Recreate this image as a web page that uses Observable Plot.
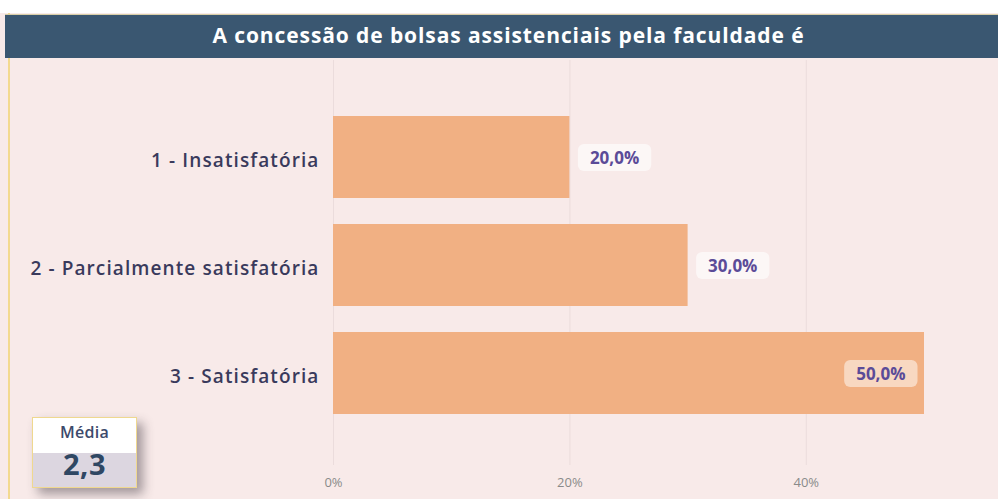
<!DOCTYPE html>
<html>
<head>
<meta charset="utf-8">
<script src="https://cdn.jsdelivr.net/npm/d3@7"></script>
<script src="https://cdn.jsdelivr.net/npm/@observablehq/plot@0.6"></script>
<style>
  html, body { margin: 0; padding: 0; background: #ffffff; }
  #wrap { position: relative; width: 998px; height: 499px; overflow: hidden; font-family: "Open Sans", sans-serif; }
  #card { position: absolute; left: 0; top: 13px; width: 998px; height: 486px; background: #f8eae9; }
  #leftline { position: absolute; left: 8px; top: 13px; width: 2px; height: 486px; background: #f3d98f; }
  #title { position: absolute; left: 5px; top: 14px; width: 993px; height: 44px; background: #3a5771;
           border-top: 1px solid #d9cfa8; box-sizing: border-box;
           color: #ffffff; font-weight: 700; font-size: 21px; line-height: 40px; text-align: center; letter-spacing: 0.9px; }
  #title span { position: relative; left: 7px; }
  #chart { position: absolute; left: 0; top: 0; }
  #media { position: absolute; left: 32px; top: 417px; width: 105px; height: 71px; border: 1px solid #efd88f;
           box-sizing: border-box; box-shadow: 6px 6px 10px rgba(60,50,60,0.45); }
  #media .top { height: 35px; background: #ffffff; color: #3d4a6b; font-size: 16px; font-weight: 600; text-align: center; line-height: 29px; letter-spacing: 0.3px; }
  #media .bot { height: 34px; background: #dcd6e0; color: #2f4763; font-size: 29px; font-weight: 700; text-align: center; line-height: 22px; letter-spacing: 0.5px; }
  g[aria-label="y-axis tick label"] text { letter-spacing: 1.1px; }
</style>
</head>
<body>
<div id="wrap">
  <div id="card"></div>
  <div id="leftline"></div>
  <div id="chart"></div>
  <div id="title"><span></span></div>
  <div id="media"><div class="top"></div><div class="bot"></div></div>
</div>
<script>
const titleText = "A concessão de bolsas assistenciais pela faculdade é";
const categories = ["1 - Insatisfatória", "2 - Parcialmente satisfatória", "3 - Satisfatória"];
const values = [20, 30, 50];
const xTicks = [0, 20, 40];
const mediaLabel = "Média";
const mediaValue = "2,3";

document.querySelector("#title span").textContent = titleText;
document.querySelector("#media .top").textContent = mediaLabel;
document.querySelector("#media .bot").textContent = mediaValue;

const data = categories.map((c, i) => ({category: c, value: values[i]}));
const fmt = v => v.toFixed(1).replace(".", ",") + "%";
const inside = d => d.value >= 45;

const svg = Plot.plot({
  width: 998,
  height: 499,
  marginTop: 60,
  marginBottom: 34,
  marginLeft: 333,
  marginRight: 74,
  style: {fontFamily: "Open Sans, sans-serif", background: "transparent", overflow: "visible"},
  x: {domain: [0, 50]},
  y: {domain: categories, paddingInner: 0.24, paddingOuter: 0.487, align: 0.52},
  marks: [
    Plot.gridX(xTicks, {stroke: "#ebdcdc", strokeOpacity: 1, strokeWidth: 1}),
    Plot.barX(data, {x: "value", y: "category", fill: "#f1b083"}),
    Plot.axisY({tickSize: 0, tickPadding: 14, dy: 3, fontSize: 19, fontWeight: 600, fill: "#3a3a5c", label: null}),
    Plot.axisX({ticks: xTicks, tickFormat: d => d + "%", tickSize: 0, tickPadding: 12, fontSize: 13, fill: "#8a8a8a", label: null}),
    Plot.text(data.filter(d => !inside(d)), {x: "value", y: "category", text: d => fmt(d.value), dx: 20, dy: 1, textAnchor: "start",
      fill: "#5b4b98", fontSize: 17, fontWeight: 700, className: "vlab-out"}),
    Plot.text(data.filter(inside), {x: "value", y: "category", text: d => fmt(d.value), dx: -19, dy: 1, textAnchor: "end",
      fill: "#5b4b98", fontSize: 17, fontWeight: 700, className: "vlab-in"})
  ]
});
document.getElementById("chart").appendChild(svg);

// rounded label backgrounds
function addBoxes(cls, fill) {
  svg.querySelectorAll("g." + cls + " text, ." + cls + " text").forEach(t => {
    const b = t.getBBox();
    const r = document.createElementNS("http://www.w3.org/2000/svg", "rect");
    r.setAttribute("x", b.x - 12);
    r.setAttribute("y", b.y - 2);
    r.setAttribute("width", b.width + 24);
    r.setAttribute("height", b.height + 4);
    r.setAttribute("rx", 6);
    r.setAttribute("fill", fill);
    if (t.getAttribute("transform")) r.setAttribute("transform", t.getAttribute("transform"));
    t.parentNode.insertBefore(r, t);
  });
}
addBoxes("vlab-out", "rgba(255,255,255,0.6)");
addBoxes("vlab-in", "rgba(255,255,255,0.5)");
</script>
</body>
</html>
